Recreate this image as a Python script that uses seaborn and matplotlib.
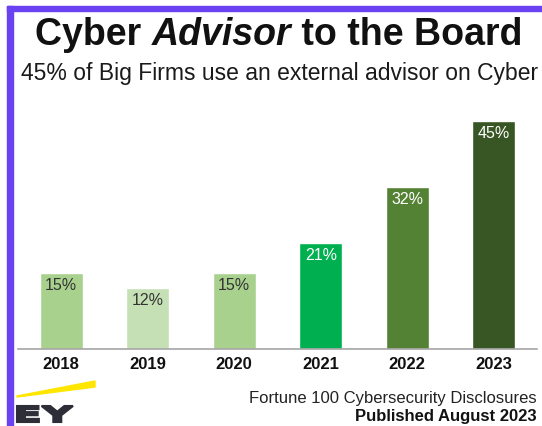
import matplotlib
matplotlib.use("Agg")
import matplotlib.pyplot as plt
import seaborn as sns
from matplotlib.patches import Rectangle, Polygon, PathPatch
from matplotlib.textpath import TextPath
from matplotlib.font_manager import FontProperties
from matplotlib.transforms import Affine2D

years = ["2018", "2019", "2020", "2021", "2022", "2023"]
shares = [15, 12, 15, 21, 32, 45]
bar_colors = ["#A9D18E", "#C5E0B4", "#A9D18E", "#00B050", "#548235", "#375623"]
label_colors = ["#333333", "#333333", "#333333", "white", "white", "white"]

title_parts = [("Cyber ", "normal"), ("Advisor", "italic"), (" to the Board", "normal")]
subtitle = "45% of Big Firms use an external advisor on Cyber"
source = "Fortune 100 Cybersecurity Disclosures"
published = "Published August 2023"

sns.set_style("white")
plt.rcParams["font.family"] = ["Liberation Sans", "DejaVu Sans"]

W, H = 542, 427
fig = plt.figure(figsize=(W / 100, H / 100), dpi=100)


def fx(px):
    return px / W


def fy(py):
    # py measured from top of the image
    return 1 - py / H


# purple frame
purple = "#6A42F2"
fig.patches.append(Rectangle((fx(7), fy(12)), 1 - fx(7), 5 / H, color=purple,
                             transform=fig.transFigure, figure=fig))
fig.patches.append(Rectangle((fx(7), 0), 6 / W, fy(7), color=purple,
                             transform=fig.transFigure, figure=fig))

ax = fig.add_axes([fx(18), fy(350), 519 / W, 253.5 / H])
sns.barplot(x=years, y=shares, hue=years, palette=bar_colors, legend=False,
            width=0.5, saturation=1, ax=ax)
ax.set_ylim(0, 50)
ax.set_xlim(-0.5, 5.5)
ax.set_yticks([])
ax.set_ylabel("")
for s in ["top", "left", "right"]:
    ax.spines[s].set_visible(False)
ax.spines["bottom"].set_color("#A6A6A6")
ax.spines["bottom"].set_linewidth(1.2)
ax.tick_params(axis="x", length=0, pad=5, labelsize=12)
for lbl in ax.get_xticklabels():
    lbl.set_fontweight("bold")
    lbl.set_color("#111111")

for i, v in enumerate(shares):
    ax.annotate(f"{v}%", xy=(i, v), xytext=(0, -3), textcoords="offset points",
                ha="center", va="top", fontsize=11.5, color=label_colors[i])

# title with italic middle word
renderer = fig.canvas.get_renderer()
texts = []
for part, style in title_parts:
    t = fig.text(0, fy(45), part, fontsize=27, fontweight="bold", fontstyle=style,
                 va="baseline", ha="left", color="#111111")
    texts.append(t)
widths = [t.get_window_extent(renderer).width for t in texts]
x = 279 - sum(widths) / 2
for t, w in zip(texts, widths):
    t.set_x(fx(x))
    x += w

fig.text(fx(280), fy(80), subtitle, fontsize=16.5, ha="center", va="baseline",
         color="#1a1a1a")

fig.text(fx(537), fy(403), source, fontsize=12, ha="right", va="baseline",
         color="#222222")
fig.text(fx(537), fy(421), published, fontsize=12, fontweight="bold",
         ha="right", va="baseline", color="#111111")

# EY mark
fig.patches.append(Polygon([(fx(17), fy(397)), (fx(95), fy(382)),
                            (fx(95), fy(388)), (fx(17), fy(398))],
                           closed=True, color="#FFE600",
                           transform=fig.transFigure, figure=fig))
tp = TextPath((0, 0), "EY", size=22,
              prop=FontProperties(family="DejaVu Sans", weight="heavy"))
bb = tp.get_extents()
tr = (Affine2D().translate(-bb.x0, -bb.y0)
      .scale(56 / bb.width, 16 / bb.height)
      .translate(17, H - 423))
fig.patches.append(PathPatch(tr.transform_path(tp), facecolor="#2E2E38",
                             edgecolor="#2E2E38", lw=1.5,
                             transform=None, figure=fig))

fig.savefig("out.png", dpi=100)
